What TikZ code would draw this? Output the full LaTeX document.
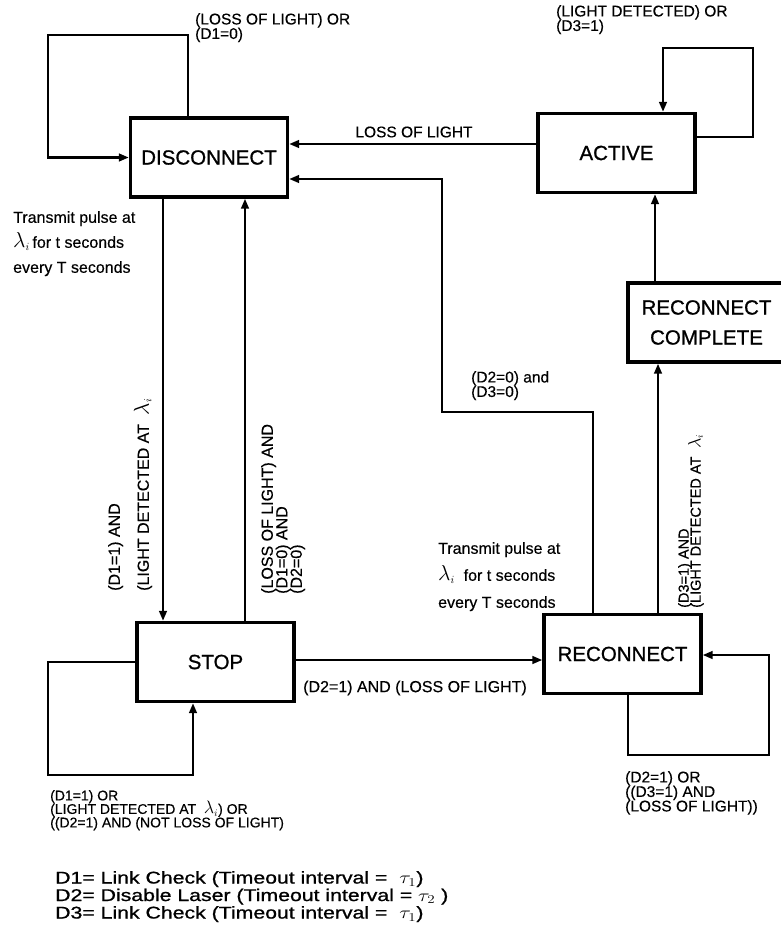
\documentclass[tikz,border=0pt]{standalone}
\usepackage{fontspec}
\usepackage{graphicx}
\setmainfont{Liberation Sans}[FakeBold=0.4]
\newfontfamily\boxfont{Liberation Sans}[FakeBold=0.9]
\newfontfamily\legfont{Liberation Sans}[FakeBold=0.9]
\usetikzlibrary{arrows.meta}
\lineskiplimit=-30pt
\newcommand{\lami}{\scalebox{1.25}{$\lambda$}$_{i}$}
\begin{document}
\begin{tikzpicture}[x=1pt,y=-1pt,
  box/.style={draw,line width=3.2pt,minimum width=157pt,minimum height=79pt,inner sep=0pt,font=\boxfont\fontsize{20.5}{24}\selectfont},
  conn/.style={line width=2.8pt,-{Triangle[length=10pt,width=7.5pt]}},
  lbl/.style={inner sep=0pt,align=left,font=\fontsize{15.5}{14.5}\selectfont},
]
\useasboundingbox (0,0) rectangle (780,937);
% states
\node[box] (disc) at (209,157.5) {DISCONNECT};
\node[box] (act) at (616.5,153) {ACTIVE};
\node[box,align=center,font=\boxfont\fontsize{20.5}{30}\selectfont] (rc) at (706.5,322.5) {RECONNECT\\COMPLETE};
\node[box] (rec) at (622.5,654) {RECONNECT};
\node[box] (stop) at (215.5,662) {STOP};
% connectors
\draw[conn] ([xshift=-21pt]disc.north) |- (48,35) |- (disc.west);
\draw[conn] (act.west |- 0,144) -- (disc.east |- 0,144);
\draw[conn] ([xshift=-29.5pt]rec.north) |- (442,412) |- (disc.east |- 0,179);
\draw[conn] (disc.south -| 163,0) -- (stop.north -| 163,0);
\draw[conn] (stop.north -| 245,0) -- (disc.south -| 245,0);
\draw[conn] (stop.west) -| (48,775) -| (stop.south -| 193,0);
\draw[conn] (stop.east |- 0,660) -- (rec.west |- 0,660);
\draw[conn] (rec.north -| 658,0) -- (rc.south -| 658,0);
\draw[conn] (rc.north -| 655,0) -- (act.south -| 655,0);
\draw[conn] (act.east |- 0,137) -| (753,48) -| (act.north -| 663,0);
\draw[conn] (rec.south -| 628,0) |- (769,755) |- (rec.east |- 0,655);
% labels
\node[lbl,anchor=north west] (l1) at (195,13) {(LOSS OF LIGHT) OR\\(D1=0)};
\node[lbl,anchor=north west] (l2) at (556,5) {(LIGHT DETECTED) OR\\(D3=1)};
\node[lbl] (l3) at (414,132) {LOSS OF LIGHT};
\node[lbl,anchor=north west,font=\fontsize{16}{25}\selectfont] (l4) at (13,211) {Transmit pulse at\\\lami\,for t seconds\\every T seconds};
\node[lbl,anchor=north west] (l5) at (471,371) {(D2=0) and\\(D3=0)};
\node[lbl,anchor=north west,font=\fontsize{16}{27}\selectfont] (l6) at (438,542) {Transmit pulse at\\\lami\ \ for t seconds\\every T seconds};
\node[lbl,anchor=west,font=\fontsize{16}{15}\selectfont] (l7) at (303,688) {(D2=1) AND (LOSS OF LIGHT)};
\node[lbl,anchor=north west] (l8) at (625,771) {(D2=1) OR\\((D3=1) AND\\(LOSS OF LIGHT))};
\node[lbl,anchor=north west,font=\fontsize{14}{13.5}\selectfont] (l9) at (50,790) {(D1=1) OR\\(LIGHT DETECTED AT\ \ \lami) OR\\((D2=1) AND (NOT LOSS OF LIGHT)};
\node[lbl,rotate=90,anchor=north west,font=\fontsize{16}{29}\selectfont] (r1) at (108,591) {(D1=1) AND\\(LIGHT DETECTED AT\ \ \lami};
\node[lbl,rotate=90,anchor=north west,font=\fontsize{16}{14.5}\selectfont] (r2) at (261,594) {(LOSS OF LIGHT) AND\\(D1=0) AND\\(D2=0)};
\node[lbl,rotate=90,anchor=north west,font=\fontsize{14.5}{12}\selectfont] (r3) at (678,608) {(D3=1) AND\\(LIGHT DETECTED AT\ \ \lami};
% legend
\node[anchor=north west,inner sep=0pt,align=left,font=\legfont\fontsize{17}{17.5}\selectfont] (leg) at (55,871)
 {\scalebox{1.25}[1]{D1= Link Check (Timeout interval = \ $\tau_{1}$)}\\
  \scalebox{1.25}[1]{D2= Disable Laser (Timeout interval = $\tau_{2}$ )}\\
  \scalebox{1.25}[1]{D3= Link Check (Timeout interval = \ $\tau_{1}$)}};
\end{tikzpicture}
\end{document}
